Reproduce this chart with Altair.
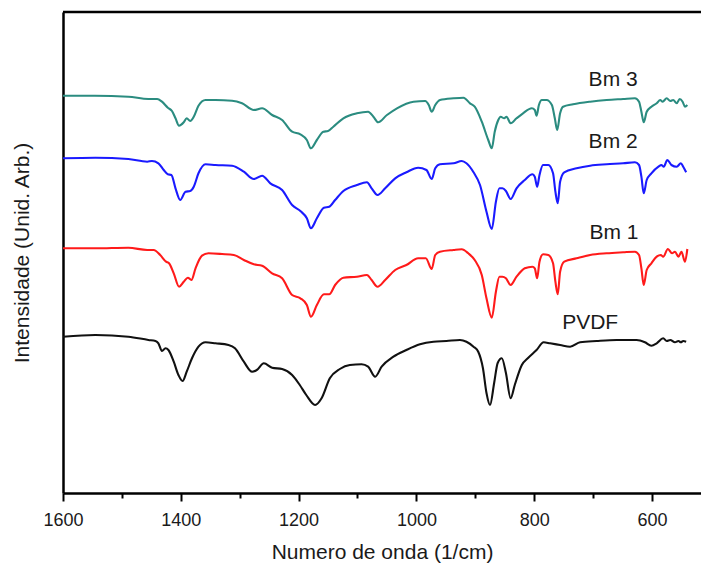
import altair as alt
import pandas as pd

# ---- data (wavenumber in 1/cm, intensity in arbitrary units) ----
bm3_w = [1600, 1546, 1489, 1455, 1440, 1432, 1422, 1415, 1409, 1403, 1395, 1390, 1384, 1378, 1370, 1358,
         1341, 1313, 1296, 1276, 1262, 1245, 1228, 1211, 1197, 1186, 1179, 1169, 1158, 1150, 1141, 1124,
         1101, 1082, 1073, 1065, 1050, 1033, 1005, 985, 979, 974, 968, 960, 937, 920, 909, 901, 889, 878,
         872, 867, 861, 857, 851, 847, 840, 830, 819, 804, 799, 796, 792, 787, 779, 770, 765, 761, 756,
         751, 734, 705, 677, 649, 629, 622, 618, 614, 609, 601, 592, 586, 582, 575, 569, 564, 558, 553,
         548, 544, 540]
bm3_i = [397.3, 397.3, 396.3, 394, 394, 391.3, 385.3, 382, 374.7, 367.3, 370.7, 374.7, 372, 376.3, 387.3, 393,
         393, 392.3, 389.7, 383, 384.7, 378, 373, 361.3, 358.7, 353, 344.7, 353, 361.3, 362, 366.3, 374.7,
         379.7, 381.3, 376.3, 370.7, 378, 384.7, 391.3, 392, 388, 381.3, 388, 393, 394.7, 395.3, 389.7, 386.3, 371.3, 353,
         344.7, 361.3, 373, 376.3, 374.7, 376.3, 369.7, 374.7, 379.7, 384.7, 383, 377.3, 388, 393, 393, 388, 374.7, 363, 379.7,
         386.3, 388.7, 391.3, 393, 394, 394.7, 391.3, 381.3, 370.7, 381.3, 386.3, 389.7, 393, 391.3, 394.7, 392, 393, 389.7, 394,
         391.3, 386.3, 388]

bm2_w = [1600, 1545, 1489, 1457, 1449, 1438, 1429, 1422, 1416, 1409, 1401, 1392, 1384, 1378, 1370, 1358,
         1341, 1313, 1293, 1276, 1262, 1248, 1228, 1211, 1197, 1186, 1179, 1169, 1157, 1148, 1138, 1124,
         1101, 1084, 1076, 1066, 1053, 1036, 1017, 997, 983, 974, 968, 960, 937, 923, 915, 903, 892, 881,
         872, 865, 859, 854, 848, 840, 830, 816, 803, 799, 795, 791, 785, 776, 768, 764, 760, 756, 749,
         728, 705, 677, 649, 629, 622, 618, 614, 609, 601, 589, 584, 580, 574, 567, 558, 551, 547, 542]
bm2_i = [334.7, 335.3, 334, 331.3, 332, 329.7, 323, 318.7, 318, 304.7, 293, 301.3, 302, 306.3, 319.7, 328.7,
         328, 327.3, 321.3, 314, 317.3, 309.7, 303, 288, 282, 274.7, 264.7, 274.7, 285.3, 286.3, 293, 302,
         308, 310.7, 304.7, 298, 304.7, 314.7, 320.7, 325.3, 323, 314, 324.7, 328.7, 329.7, 332, 329.7, 320.7, 308, 281.3,
         264, 291.3, 304.7, 304.7, 302, 294, 304.7, 313, 318.7, 316.3, 306.3, 318, 328, 328, 319.7, 301.3, 289.7, 311.3, 320.7,
         324.7, 327.3, 328.7, 329.7, 330.7, 328, 316.3, 299.7, 313, 319.7, 326.3, 328, 326.3, 333, 328, 326.3, 329.7, 326.3, 320.7]

bm1_w = [1600, 1545, 1489, 1457, 1446, 1435, 1425, 1420, 1412, 1403, 1395, 1388, 1382, 1375, 1364, 1353,
         1330, 1310, 1293, 1276, 1262, 1245, 1228, 1211, 1197, 1186, 1179, 1169, 1157, 1148, 1138, 1124,
         1101, 1084, 1076, 1066, 1053, 1036, 1017, 997, 984, 974, 968, 960, 937, 923, 912, 901, 889, 881,
         872, 865, 859, 854, 848, 840, 830, 816, 803, 799, 795, 791, 785, 776, 768, 764, 760, 756, 749,
         728, 705, 677, 649, 629, 622, 618, 614, 609, 601, 592, 585, 581, 573, 566, 561, 555, 550, 544, 540]
bm1_i = [244.7, 244.7, 245.3, 243, 243, 238, 231.3, 229.7, 219.7, 206.3, 211.3, 215.3, 213, 224.7, 237.3, 239.7,
         239, 238, 233, 228.7, 227.3, 219.7, 214.7, 198, 194.7, 188, 176.3, 188, 198.7, 198.7, 208, 215.3,
         216.3, 218, 213, 206.3, 213, 223, 228, 234.7, 234.7, 224, 238, 241.3, 243, 243.7, 239.7, 233, 218, 194.7,
         175.3, 201.3, 216.3, 216.3, 214.7, 208, 216.3, 224.7, 226.3, 224.7, 214.7, 231.3, 238.7, 238, 229.7, 211.3, 198.7, 221.3, 231.3,
         234.7, 238, 239.7, 240.7, 241.3, 238, 224.7, 208, 223, 229.7, 236.3, 238, 236.3, 244, 239.7, 241.3, 236.3, 241.3, 231.3, 244]

pvdf_w = [1600, 1545, 1489, 1455, 1443, 1438, 1432, 1426, 1421, 1412, 1404, 1397, 1390, 1381, 1370, 1358,
          1341, 1319, 1308, 1293, 1279, 1271, 1259, 1245, 1228, 1211, 1198, 1187, 1172, 1161, 1147, 1130,
          1113, 1093, 1082, 1070, 1059, 1039, 1017, 994, 971, 949, 926, 915, 903, 895, 887, 881, 875, 868,
          862, 855, 848, 840, 833, 821, 810, 796, 784, 773, 756, 739, 722, 694, 660, 626, 612, 601, 592,
          581, 575, 569, 561, 555, 551, 547, 542]
pvdf_i = [156.3, 158, 156.3, 153, 152, 149.7, 142, 144.7, 143, 131.3, 118, 112, 121.3, 134.7, 146.3, 150.7,
          149.7, 148, 144.7, 131.3, 121.3, 123, 129.7, 125.3, 124, 118, 108, 98, 88, 94.7, 114.7, 124,
          128, 128.7, 126.3, 116.3, 126.3, 136.3, 143, 148.7, 151.3, 152, 153, 151.3, 146.3, 141.3, 124.7, 100, 88, 110,
          130, 134.7, 120, 94.7, 108, 128, 135.3, 143, 150.7, 149.7, 148, 146.3, 150.7, 152, 153, 153, 150.7, 147.3, 149.7,
          154.7, 152, 153, 150.7, 152, 150.7, 152, 151.3]

series_names = ["Bm 3", "Bm 2", "Bm 1", "PVDF"]
series_colors = ["#2b8c80", "#1a1aff", "#ff1a1a", "#111111"]

label_text = ["Bm 3", "Bm 2", "Bm 1", "PVDF"]
label_w = [666, 666, 664.5, 705]
label_i = [413, 351, 260, 170]

all_ticks = [1600, 1500, 1400, 1300, 1200, 1100, 1000, 900, 800, 700, 600]

# ---- build long table ----
rows = []
for name, ws, ins in zip(series_names, [bm3_w, bm2_w, bm1_w, pvdf_w], [bm3_i, bm2_i, bm1_i, pvdf_i]):
    for w, i in zip(ws, ins):
        rows.append({"serie": name, "w": w, "I": i})
df = pd.DataFrame(rows)
labels_df = pd.DataFrame({"txt": label_text, "w": label_w, "I": label_i})

FONT = "Liberation Sans"
W, H = 638, 481

xscale = alt.Scale(domain=[1600, 516.8], nice=False, zero=False)
yscale = alt.Scale(domain=[0, 481], nice=False, zero=False)

xaxis = alt.Axis(
    values=all_ticks,
    format="d",
    labelExpr="datum.value % 200 === 0 ? datum.label : ''",
    labelFlush=False,
    labelOverlap=False,
    title="Numero de onda (1/cm)",
    grid=False,
    domainColor="#000", domainWidth=2.5,
    tickColor="#000", tickWidth=2,
    tickSize={"condition": {"test": "datum.value % 200 === 0", "value": 8}, "value": 5},
    labelFont=FONT, labelFontSize=18, labelColor="#1a1a1a", labelPadding=10,
    titleFont=FONT, titleFontSize=21, titleFontWeight="normal", titleColor="#1a1a1a", titlePadding=12,
)
yaxis = alt.Axis(
    title="Intensidade (Unid. Arb.)",
    labels=False, ticks=False, grid=False,
    domainColor="#000", domainWidth=2.5,
    titleFont=FONT, titleFontSize=21, titleFontWeight="normal", titleColor="#1a1a1a", titlePadding=31,
)

lines = alt.Chart(df).mark_line(strokeWidth=2.1, clip=True, interpolate="monotone").encode(
    x=alt.X("w:Q", scale=xscale, axis=xaxis),
    y=alt.Y("I:Q", scale=yscale, axis=yaxis),
    color=alt.Color("serie:N", scale=alt.Scale(domain=series_names, range=series_colors), legend=None),
    detail="serie:N",
)

top_line = alt.Chart(pd.DataFrame({"k": [0]})).mark_rule(color="#000", strokeWidth=2.5).encode(
    x=alt.value(0), x2=alt.value(W + 10), y=alt.value(0)
)

texts = alt.Chart(labels_df).mark_text(font=FONT, fontSize=21, color="#1a1a1a", align="center", baseline="middle").encode(
    x=alt.X("w:Q", scale=xscale),
    y=alt.Y("I:Q", scale=yscale),
    text="txt:N",
)

chart = alt.layer(lines, top_line, texts).properties(
    width=W, height=H,
    padding={"left": 63, "top": 12, "right": 0, "bottom": 70},
    autosize=alt.AutoSizeParams(type="none"),
).configure_view(stroke=None).configure(background="white")

chart.save("out.html", embed_options={"renderer": "svg", "actions": False})
